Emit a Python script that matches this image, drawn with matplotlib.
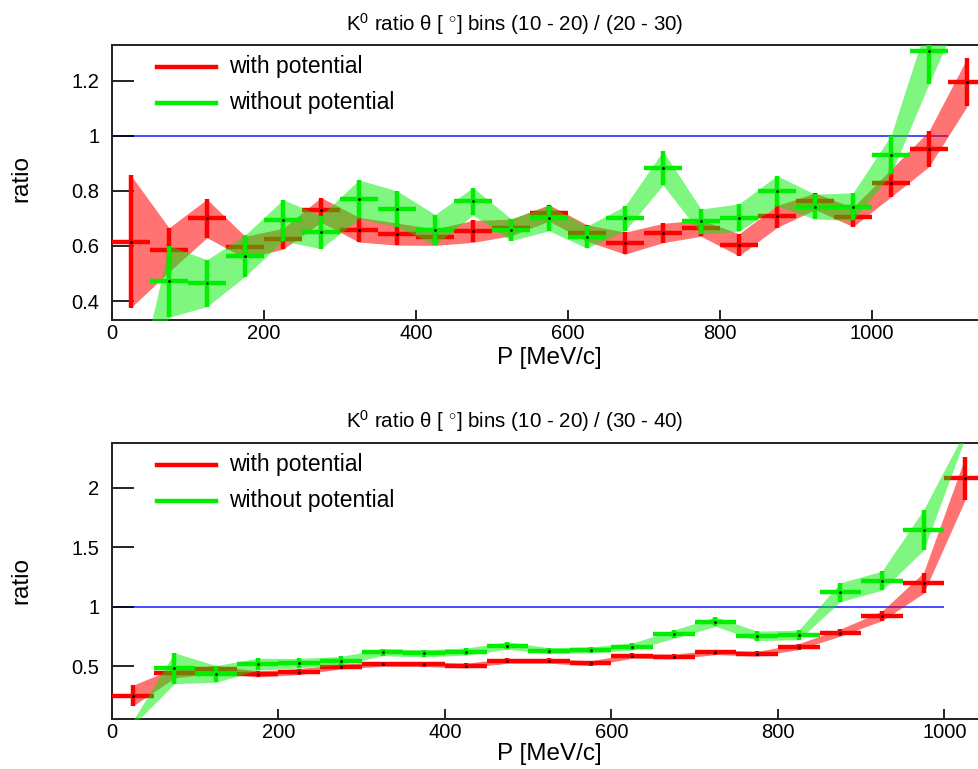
import matplotlib
matplotlib.use('Agg')
import matplotlib.pyplot as plt
from matplotlib.lines import Line2D

plt.rcParams['font.family'] = ['Liberation Sans', 'DejaVu Sans']
plt.rcParams['mathtext.fontset'] = 'custom'
plt.rcParams['mathtext.rm'] = 'Liberation Sans'
plt.rcParams['mathtext.it'] = 'Liberation Sans:italic'

# ---------- datos ----------
bin_half = 25

p_top = [25, 75, 125, 175, 225, 275, 325, 375, 425, 475, 525, 575,
         625, 675, 725, 775, 825, 875, 925, 975, 1025, 1075, 1125]
red_top = [0.616, 0.586, 0.70, 0.595, 0.626, 0.731, 0.659, 0.643, 0.632, 0.653, 0.667, 0.72,
           0.647, 0.61, 0.647, 0.665, 0.604, 0.707, 0.762, 0.705, 0.828, 0.953, 1.194]
red_top_err = [0.24, 0.08, 0.07, 0.04, 0.038, 0.045, 0.045, 0.04, 0.03, 0.04, 0.03, 0.03,
               0.03, 0.04, 0.035, 0.03, 0.04, 0.04, 0.03, 0.035, 0.05, 0.065, 0.087]
green_top = [0.0, 0.471, 0.465, 0.564, 0.693, 0.65, 0.77, 0.735, 0.659, 0.762, 0.659, 0.70,
             0.632, 0.70, 0.883, 0.689, 0.703, 0.80, 0.743, 0.743, 0.931, 1.309, 1.60]
green_top_err = [0.0, 0.13, 0.085, 0.075, 0.075, 0.06, 0.07, 0.065, 0.055, 0.05, 0.04, 0.045,
                 0.04, 0.045, 0.062, 0.045, 0.05, 0.055, 0.045, 0.05, 0.07, 0.12, 0.10]

p_bot = [25, 75, 125, 175, 225, 275, 325, 375, 425, 475, 525, 575,
         625, 675, 725, 775, 825, 875, 925, 975, 1025]
red_bot = [0.252, 0.44, 0.474, 0.434, 0.454, 0.496, 0.518, 0.516, 0.504, 0.544, 0.544, 0.524,
           0.586, 0.58, 0.617, 0.603, 0.664, 0.782, 0.922, 1.199, 2.079]
red_bot_err = [0.088, 0.04, 0.03, 0.025, 0.025, 0.02, 0.02, 0.02, 0.02, 0.02, 0.02, 0.02,
               0.02, 0.02, 0.02, 0.02, 0.025, 0.03, 0.04, 0.087, 0.18]
green_bot = [0.02, 0.482, 0.434, 0.516, 0.524, 0.546, 0.617, 0.608, 0.622, 0.672, 0.63, 0.636,
             0.664, 0.768, 0.874, 0.754, 0.762, 1.121, 1.218, 1.645, 2.45]
green_bot_err = [0.02, 0.13, 0.07, 0.05, 0.04, 0.035, 0.03, 0.03, 0.03, 0.03, 0.025, 0.025,
                 0.03, 0.035, 0.04, 0.04, 0.04, 0.08, 0.08, 0.17, 0.03]

x_ticks = [0, 200, 400, 600, 800, 1000]
y_ticks_top = [0.4, 0.6, 0.8, 1, 1.2]
y_labels_top = ['0.4', '0.6', '0.8', '1', '1.2']
y_ticks_bot = [0.5, 1, 1.5, 2]
y_labels_bot = ['0.5', '1', '1.5', '2']

title_top = r'K$^{0}$ ratio θ [ $^{\circ}$] bins (10 - 20) / (20 - 30)'
title_bot = r'K$^{0}$ ratio θ [ $^{\circ}$] bins (10 - 20) / (30 - 40)'

RED = '#ff0000'
GREEN = '#00ee00'
BLUE = '#3c3cff'

W, H = 979, 769
fig = plt.figure(figsize=(W / 100, H / 100), dpi=100)


def panel(rect, p, r, re, g, ge, xlim, ylim, yt, ytl, line_end):
    ax = fig.add_axes(rect)
    ax.set_xlim(*xlim)
    ax.set_ylim(*ylim)

    ax.hlines(1, 0, line_end, color=BLUE, lw=1.3, zorder=1)

    # banda + cruces roja
    lo = [v - e for v, e in zip(r, re)]
    hi = [v + e for v, e in zip(r, re)]
    ax.fill_between(p, lo, hi, color=RED, alpha=0.55, lw=0, zorder=2)
    ax.errorbar(p, r, xerr=bin_half, yerr=re, fmt='.', color=RED, ecolor=RED,
                elinewidth=3.2, capsize=0, ms=2, mfc='k', mec='k', zorder=3)

    # banda + cruces verde
    lo = [v - e for v, e in zip(g, ge)]
    hi = [v + e for v, e in zip(g, ge)]
    ax.fill_between(p, lo, hi, color=GREEN, alpha=0.5, lw=0, zorder=4)
    ax.errorbar(p, g, xerr=bin_half, yerr=ge, fmt='.', color=GREEN, ecolor=GREEN,
                elinewidth=3.2, capsize=0, ms=2, mfc='k', mec='k', zorder=5)

    ax.set_xticks(x_ticks)
    ax.set_xticklabels([str(t) for t in x_ticks])
    ax.set_yticks(yt)
    ax.set_yticklabels(ytl)
    ax.tick_params(axis='x', direction='in', length=7, width=1.2, pad=3, labelsize=14.5)
    ax.tick_params(axis='y', direction='in', length=15.5, width=1.2, pad=9, labelsize=14.5)
    ax.tick_params(top=False, right=False)
    for s in ['left', 'bottom', 'top']:
        ax.spines[s].set_color('#222222')
        ax.spines[s].set_linewidth(1.4)
    ax.spines['right'].set_visible(False)

    # leyenda
    x0 = (157 - rect[0] * W) / (rect[2] * W)
    x1 = (216 - rect[0] * W) / (rect[2] * W)
    xt = (229 - rect[0] * W) / (rect[2] * W)
    for name, col, dy in [('with potential', RED, 22), ('without potential', GREEN, 58)]:
        yy = 1 - dy / (rect[3] * H)
        ax.add_line(Line2D([x0, x1], [yy, yy], color=col, lw=3.2,
                           transform=ax.transAxes, clip_on=False))
        ax.text(xt, yy, name, transform=ax.transAxes, fontsize=16.5,
                va='center', ha='left')
    return ax


ax1 = panel([112 / W, 1 - 320 / H, 874 / W, 275 / H],
            p_top, red_top, red_top_err, green_top, green_top_err,
            (0, 1150), (0.331, 1.33), y_ticks_top, y_labels_top, 1100)
ax2 = panel([112 / W, 1 - 719 / H, 874 / W, 276 / H],
            p_bot, red_bot, red_bot_err, green_bot, green_bot_err,
            (0, 1050), (0.055, 2.376), y_ticks_bot, y_labels_bot, 1000)

fig.text(515 / W, 1 - 24 / H, title_top, ha='center', va='center', fontsize=14.8)
fig.text(515 / W, 1 - 421 / H, title_bot, ha='center', va='center', fontsize=14.8)

for yc in [178, 580]:
    fig.text(21 / W, 1 - yc / H, 'ratio', rotation=90, ha='center', va='center', fontsize=17.5)
for yc in [358, 754]:
    fig.text(549 / W, 1 - yc / H, 'P [MeV/c]', ha='center', va='center', fontsize=17.5)

fig.savefig('out.png', dpi=100)
